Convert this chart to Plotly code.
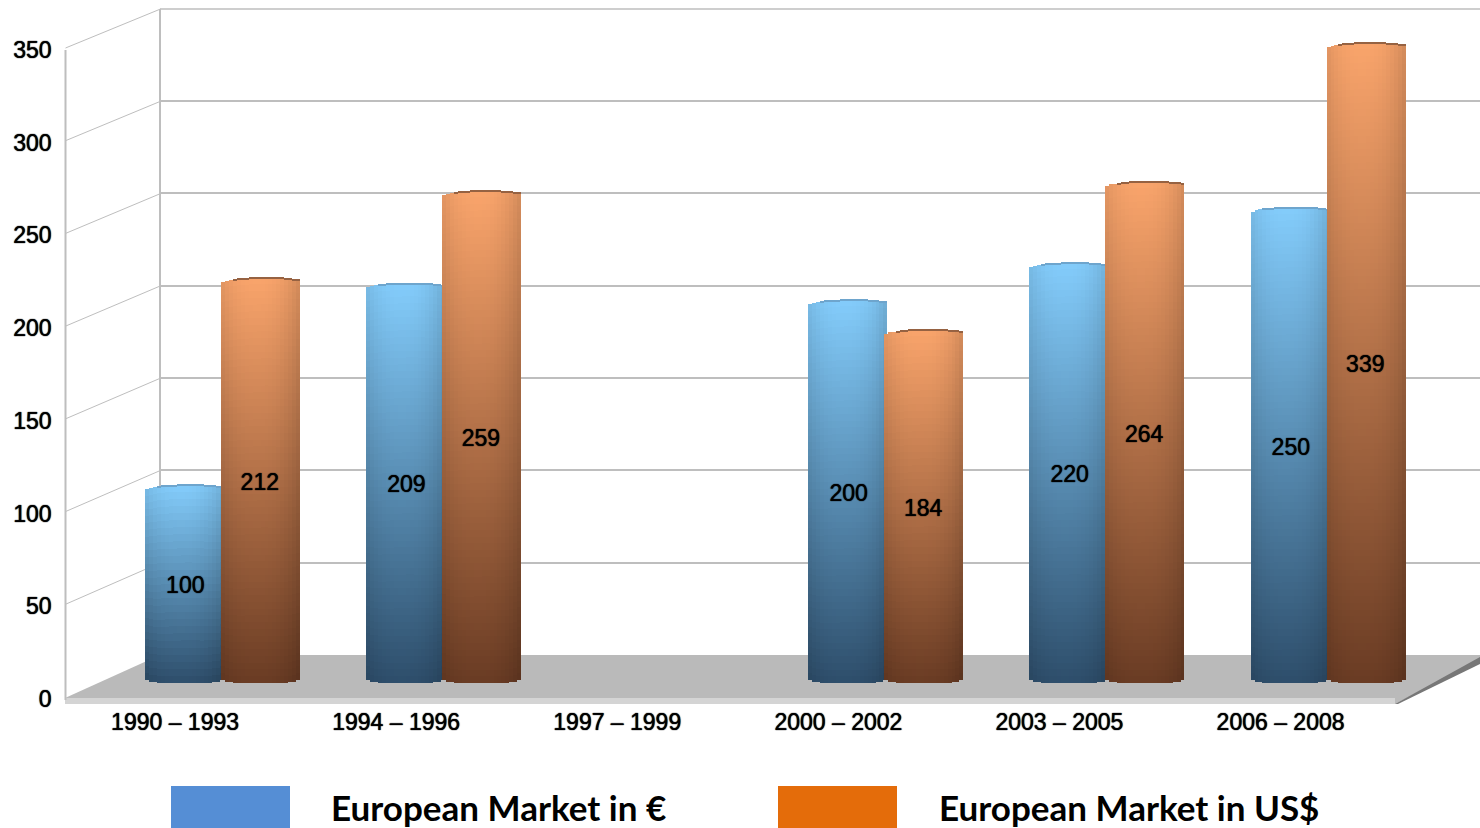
import plotly.graph_objects as go

periods = ["1990 – 1993", "1994 – 1996", "1997 – 1999", "2000 – 2002", "2003 – 2005", "2006 – 2008"]
euro = [100, 209, None, 200, 220, 250]
usd = [212, 259, None, 184, 264, 339]
y_ticks = [0, 50, 100, 150, 200, 250, 300, 350]
names = ["European Market in €", "European Market in US$"]

W, H = 1480, 828
FONT = "Liberation Sans"
UNIT = 1.85           # px per value unit (bars)
BASE_PX = 676
GROUP = 221.1
BAR_W_PX = 79
OFFSET_PX = 38
X0 = 111.9
HEAVY = "0 0 1px #000, 0 0 1px rgba(0,0,0,0.6)"

def xf(p): return p / W
def yf(p): return 1 - p / H

def mix(a, b, t):
    return tuple(a[i] + (b[i] - a[i]) * t for i in range(3))

def rgb(c, k=1.0):
    return "rgb(%d,%d,%d)" % tuple(max(0, min(255, c[i] * k)) for i in range(3))

def cylinder(values, centre_shift, top, bottom, rim, name):
    xs, bases, hs, cols, widths = [], [], [], [], []
    M = 20
    width = BAR_W_PX / GROUP
    strip = width / M
    cap = 6.5 / UNIT
    foot = 7 / UNIT
    for i, v in enumerate(values):
        if v is None:
            continue
        n = max(12, int(v / 3.5))
        for m in range(M):
            u = -1 + (m + 0.5) * 2 / M
            shade = 1 - 0.13 * abs(u + 0.1) ** 2.4
            arch = cap * max(0, 1 - ((u - 0.12) / 1.12) ** 2) ** 0.5
            low = -foot * max(0, 1 - u ** 6) ** 0.5
            hi = v + arch
            cx = i + centre_shift + u * width / 2
            h = (hi - low) / n
            for s in range(n):
                t = (s + 0.5) / n     # 0 bottom .. 1 top
                xs.append(cx)
                widths.append(strip)
                bases.append(low + s * h)
                hs.append(h)
                cols.append(rgb(mix(bottom, top, t), shade))
            if u > -0.75:
                xs.append(cx)
                widths.append(strip)
                bases.append(hi - 1.2 / UNIT)
                hs.append(1.2 / UNIT)
                cols.append(rgb(rim, 1))
    return go.Bar(x=xs, y=hs, base=bases, width=widths, xaxis="x3", yaxis="y3", name=name,
                  marker=dict(color=cols, line=dict(width=0)), showlegend=False, hoverinfo="skip")

fig = go.Figure()

# back wall grid
fig.add_trace(go.Scatter(x=[0], y=[0], xaxis="x", yaxis="y", mode="markers", marker=dict(opacity=0),
                         showlegend=False, hoverinfo="skip"))
# front axis
fig.add_trace(go.Scatter(x=periods, y=[0] * len(periods), xaxis="x2", yaxis="y2", mode="markers",
                         marker=dict(opacity=0), showlegend=False, hoverinfo="skip"))

fig.add_trace(cylinder(euro, -OFFSET_PX / GROUP, (132, 205, 252), (46, 78, 107), (110, 165, 205), names[0]))
fig.add_trace(cylinder(usd, OFFSET_PX / GROUP, (250, 165, 108), (106, 60, 36), (150, 98, 66), names[1]))

for vals, sh in ((euro, -0.168), (usd, 0.169)):
    xs = [i + sh for i, v in enumerate(vals) if v is not None]
    ys = [v / 2 - 4 / UNIT for v in vals if v is not None]
    fig.add_trace(go.Scatter(x=xs, y=ys, text=[str(v) for v in vals if v is not None],
                             mode="text", xaxis="x3", yaxis="y3", showlegend=False,
                             textfont=dict(family=FONT, size=23, color="#000000", shadow=HEAVY), hoverinfo="skip"))

GRID = "#BEBEBE"
shapes = []
def poly(pts, fill):
    path = "M " + " L ".join(f"{xf(x):.5f},{yf(y):.5f}" for x, y in pts) + " Z"
    shapes.append(dict(type="path", path=path, xref="paper", yref="paper", fillcolor=fill,
                       line=dict(width=0), layer="below"))
def seg(x0, y0, x1, y1, w=1):
    shapes.append(dict(type="line", x0=xf(x0), y0=yf(y0), x1=xf(x1), y1=yf(y1), xref="paper", yref="paper",
                       line=dict(color=GRID, width=w), layer="below"))

F_ZERO, F_SCALE = 697, 649 / 350
B_ZERO, B_SCALE = 655, 646 / 350
B_TOP = 8.5
poly([(65, 698), (160, 655), (1480, 655), (1480, 660), (1395, 704), (65, 704)], "#BABABA")
poly([(65, 698), (1395, 698), (1395, 704), (65, 704)], "#D4D4D4")
poly([(1395, 704), (1480, 657), (1480, 664), (1398, 704)], "#777777")
seg(65.5, 50, 65.5, 700, 2)
seg(160, B_TOP + 0.5, 1480, B_TOP + 0.5, 1.5)
for v in y_ticks[1:]:
    seg(65.5, F_ZERO - v * F_SCALE, 160.5, B_ZERO - v * B_SCALE, 1)

# legend
shapes.append(dict(type="rect", x0=xf(171), x1=xf(290), y0=yf(786), y1=yf(828), xref="paper", yref="paper",
                   fillcolor="#558ED5", line=dict(width=0)))
shapes.append(dict(type="rect", x0=xf(778), x1=xf(897), y0=yf(786), y1=yf(828), xref="paper", yref="paper",
                   fillcolor="#E46C0A", line=dict(width=0)))
annotations = [
    dict(text=f"<b>{names[0]}</b>", x=xf(329), y=yf(807), xref="paper", yref="paper", xanchor="left", yanchor="middle",
         showarrow=False, font=dict(family="Lato", size=35, color="#000000")),
    dict(text=f"<b>{names[1]}</b>", x=xf(937), y=yf(807), xref="paper", yref="paper", xanchor="left", yanchor="middle",
         showarrow=False, font=dict(family="Lato", size=35, color="#000000")),
]

tick_font = dict(family=FONT, size=23, color="#000000", shadow=HEAVY)
fig.update_layout(
    width=W, height=H, margin=dict(l=0, r=0, t=0, b=0, pad=0, autoexpand=False), autosize=False,
    paper_bgcolor="white", plot_bgcolor="rgba(0,0,0,0)", showlegend=False,
    barmode="overlay", bargap=0, shapes=shapes, annotations=annotations,
    # back wall
    xaxis=dict(domain=[xf(161), 1], range=[0, 1], showgrid=False, zeroline=False, showticklabels=False,
               ticks="", anchor="y"),
    yaxis=dict(domain=[yf(B_ZERO), yf(B_TOP)], range=[0, 350], tickvals=y_ticks[1:], showticklabels=False, ticks="",
               showgrid=True, gridcolor=GRID, gridwidth=1.5, zeroline=False, showline=True, linecolor=GRID,
               linewidth=1.5, anchor="x"),
    # front plane: tick labels
    xaxis2=dict(domain=[xf(X0 - 47.4), xf(X0 - 47.4 + 6 * GROUP)], type="category", categoryorder="array",
                categoryarray=periods, range=[-0.5, 5.5], tickfont=tick_font, showgrid=False, zeroline=False, ticks="",
                showline=False, anchor="y2", ticklabelstandoff=7),
    yaxis2=dict(domain=[yf(F_ZERO + 2), yf(50)], range=[0, 350], tickvals=y_ticks, tickfont=tick_font, showgrid=False,
                zeroline=False, ticks="", showline=False, anchor="x2", ticklabelstandoff=12),
    # bars
    xaxis3=dict(domain=[xf(X0), min(1, xf(X0 + 6 * GROUP))], range=[-0.5, (min(W, X0 + 6 * GROUP) - X0) / GROUP - 0.5],
                visible=False, anchor="y3"),
    yaxis3=dict(domain=[0, 1], range=[(BASE_PX - H) / UNIT, BASE_PX / UNIT], visible=False, anchor="x3"),
)

fig.write_html("out.html", config={"displayModeBar": False},
               post_script="document.body.style.margin='0';document.documentElement.style.overflow='hidden';")
